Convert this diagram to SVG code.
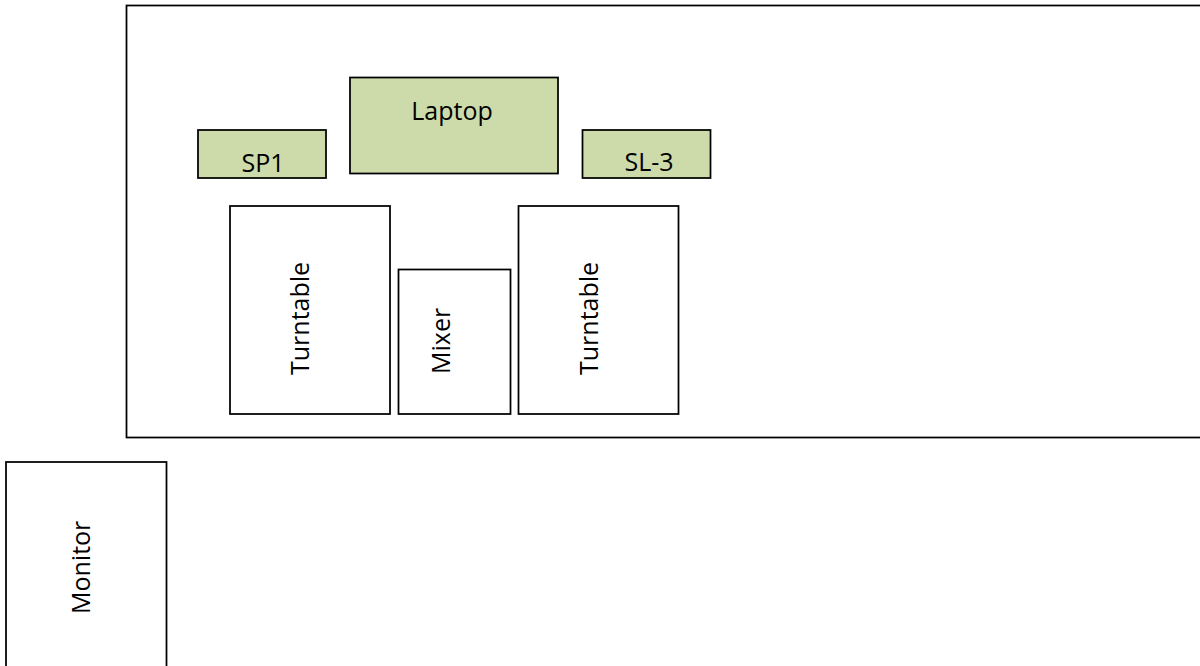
<svg xmlns="http://www.w3.org/2000/svg" width="1200" height="666" viewBox="0 0 1200 666">
<style>
.box{fill:#ffffff;stroke:#000;stroke-width:1.75}
.g{fill:#cddbab;stroke:#000;stroke-width:1.75}
.t{font-family:"Open Sans","Liberation Sans",sans-serif;font-size:25px;fill:#000}
</style>
<rect width="1200" height="666" fill="#fff"/>
<g id="stage"><rect class="box" x="126.5" y="5.5" width="1090" height="432"/></g>
<g id="sp1"><rect class="g" x="198" y="130" width="128" height="48"/><text class="t" x="263" y="171.5" text-anchor="middle">SP1</text></g>
<g id="laptop"><rect class="g" x="350" y="77.5" width="208" height="96"/><text class="t" x="452" y="120" text-anchor="middle">Laptop</text></g>
<g id="sl3"><rect class="g" x="582.5" y="130" width="128" height="48"/><text class="t" x="649" y="171" text-anchor="middle">SL-3</text></g>
<g id="turntable1"><rect class="box" x="230" y="206" width="160" height="208"/><text class="t" transform="translate(309,375) rotate(-90)">Turntable</text></g>
<g id="mixer"><rect class="box" x="398.5" y="269.5" width="112" height="144.5"/><text class="t" transform="translate(450,374) rotate(-90)">Mixer</text></g>
<g id="turntable2"><rect class="box" x="518.5" y="206" width="160" height="208"/><text class="t" transform="translate(597.5,375) rotate(-90)">Turntable</text></g>
<g id="monitor"><rect class="box" x="6" y="462" width="160.5" height="220"/><text class="t" transform="translate(90,614) rotate(-90)">Monitor</text></g>
<g id="connectors"></g>
</svg>
